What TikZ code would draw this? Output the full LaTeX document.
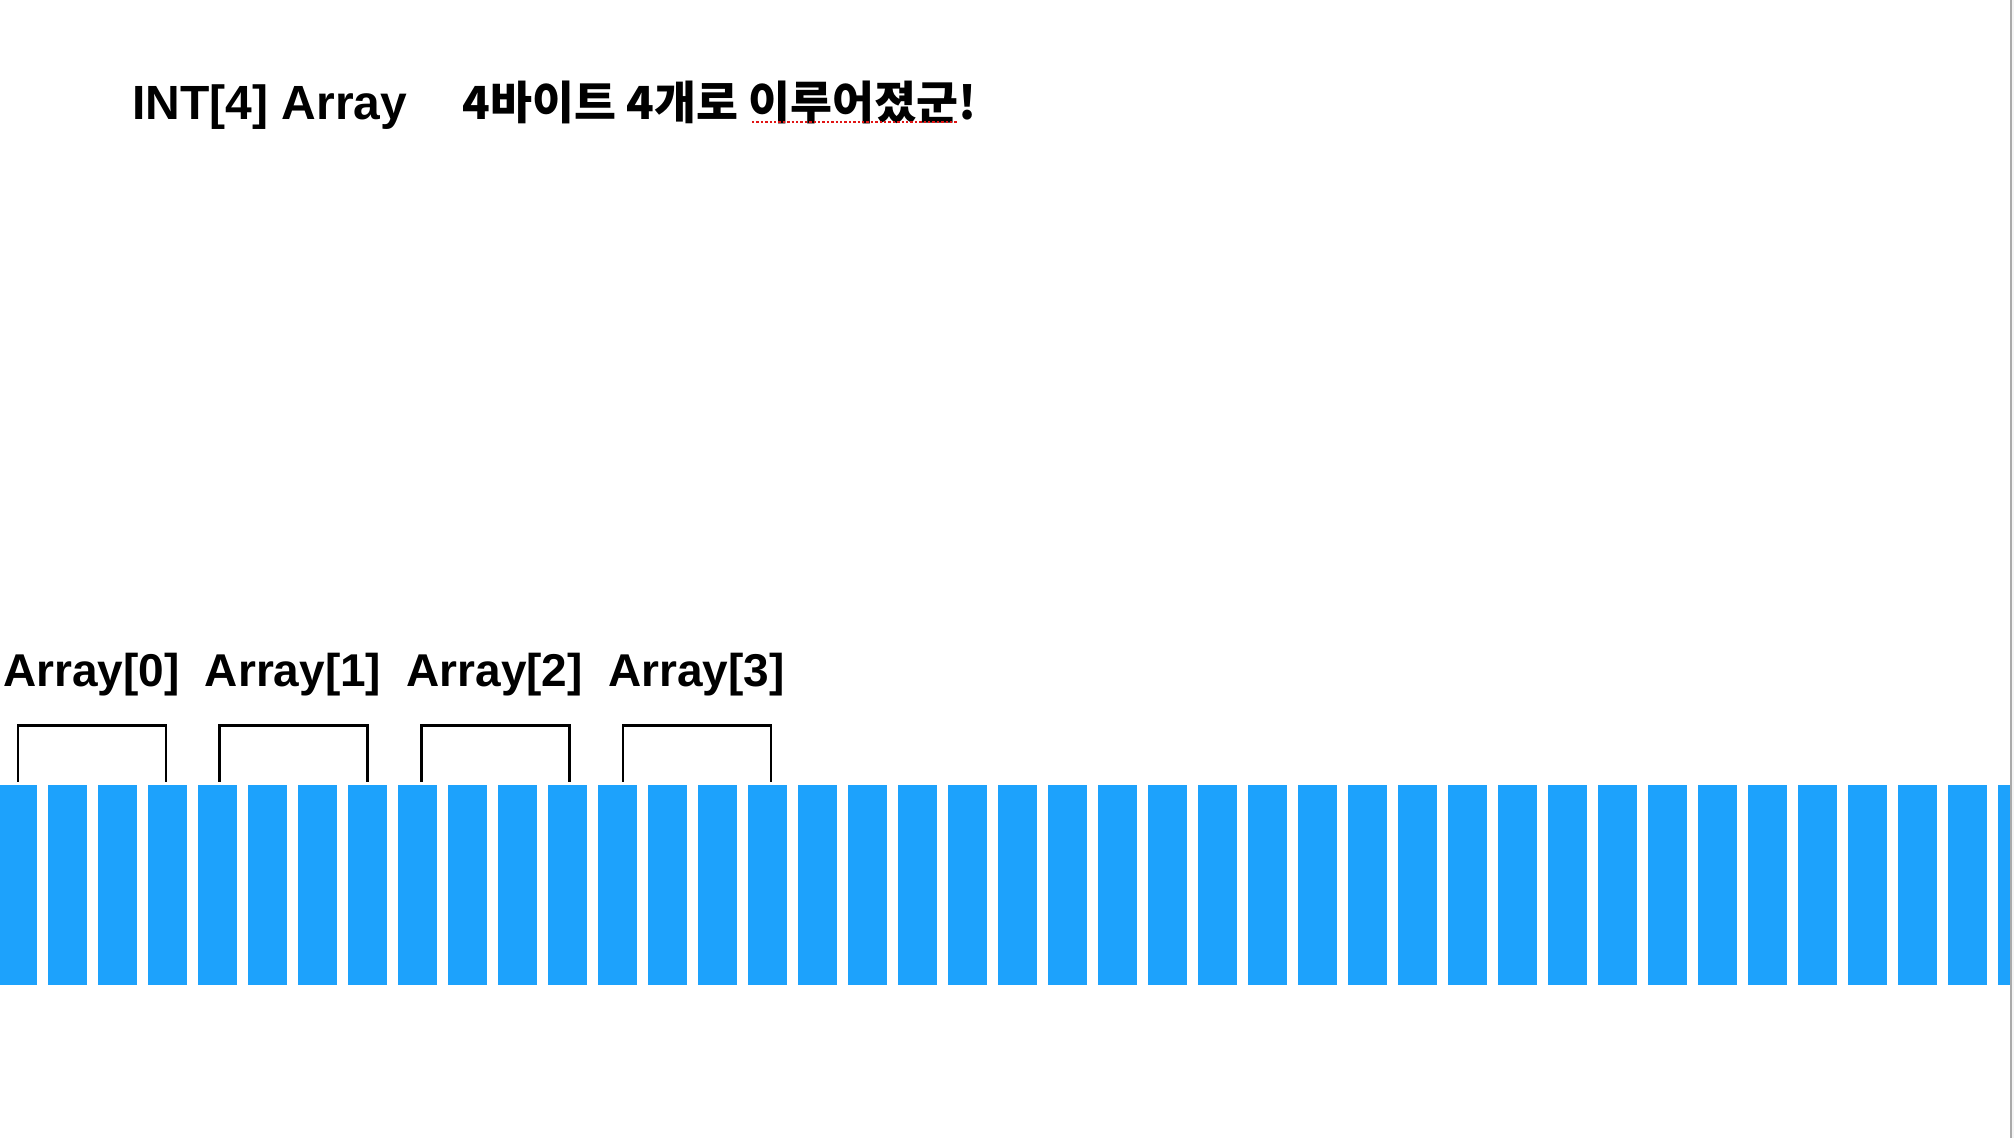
\documentclass[tikz,border=0pt]{standalone}
\usepackage{fontspec}
\setmainfont{Liberation Sans}
\newfontfamily\cjk{Noto Sans CJK KR}
\definecolor{barblue}{RGB}{29,162,252}
\definecolor{edgegray}{RGB}{170,170,170}
\definecolor{edgelight}{RGB}{244,244,244}
\definecolor{spellred}{RGB}{225,20,20}
\begin{document}
\begin{tikzpicture}[x=0.5pt,y=-0.5pt,
  bytebar/.style={fill=barblue, draw=none, inner sep=0pt, minimum width=19.5pt, minimum height=100pt},
  brk/.style={draw=black, line width=1.3pt},
  lbl/.style={font=\fontsize{23}{27}\selectfont\bfseries, inner sep=0pt, anchor=base},
  ttl/.style={font=\fontsize{24}{28}\selectfont\bfseries, inner sep=0pt, anchor=base west}]
\useasboundingbox (0,0) rectangle (2014,1138);
\fill[white] (0,0) rectangle (2014,1138);
% bytes
\begin{scope}
\clip (0,0) rectangle (2010,1138);
\foreach \k in {0,...,40} {
  \node[bytebar] (b\k) at ({17.5+50*\k},885) {};
}
\end{scope}
% brackets and labels
\foreach \i in {0,1,2,3} {
  \pgfmathtruncatemacro{\a}{4*\i}
  \pgfmathtruncatemacro{\b}{4*\i+3}
  \pgfmathsetmacro{\ls}{0.25+0.85*\i}
  \pgfmathsetmacro{\rs}{-0.75+0.85*\i}
  \draw[brk] ([xshift=\ls pt,yshift=1.5pt]b\a.north) -- ++(0,-56) -| ([xshift=\rs pt,yshift=1.5pt]b\b.north);
  \node[lbl] (l\i) at ({91.5+201.6*\i},687) {Array[\i]};
}
% title
\node[ttl] (title) at (132,119.5) {INT[4] Array};
\node[ttl, font=\cjk\fontsize{22.8}{27}\selectfont\bfseries] (note) at (462,119.5) {4바이트 4개로 이루어졌군!};
\draw[spellred, densely dotted, line width=1.2pt] (752,122) -- (957,122);
% window edge
\fill[edgegray] (2010,0) rectangle (2012,1138);
\fill[edgelight] (2012,0) rectangle (2014,1138);
\end{tikzpicture}
\end{document}
